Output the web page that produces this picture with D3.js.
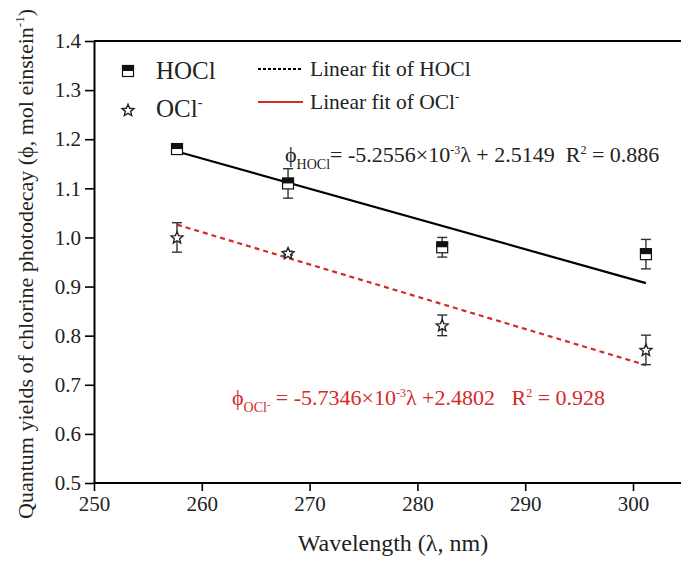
<!DOCTYPE html>
<html>
<head>
<meta charset="utf-8">
<script src="https://cdn.jsdelivr.net/npm/d3@7"></script>
<style>
  body { margin: 0; background: #fff; }
  svg, svg text { font-family: "Liberation Serif", "Times New Roman", serif; }
  text { white-space: pre; }
</style>
</head>
<body>
<div id="chart"></div>
<script>
(function(d3){
  'use strict';

  // data
  var wavelengths = [257.7, 268.0, 282.3, 301.2];
  var hoclValues = [1.180, 1.110, 0.980, 0.966];
  var hoclErrors = [0.004, 0.030, 0.020, 0.030];
  var oclValues = [1.000, 0.968, 0.821, 0.771];
  var oclErrors = [0.030, 0.004, 0.021, 0.030];
  var fitRange = [257.7, 301.2];
  var hoclFit = [1.175, 0.907];
  var oclFit = [1.026, 0.740];
  var xTicks = [250, 260, 270, 280, 290, 300];
  var yTicks = [0.5, 0.6, 0.7, 0.8, 0.9, 1.0, 1.1, 1.2, 1.3, 1.4];

  var width = 681, height = 563;
  var red = '#d42a2a';
  var serif = '"Liberation Serif", "Times New Roman", serif';

  var svg = d3.select('#chart').append('svg')
    .attr('width', width)
    .attr('height', height);

  var x = d3.scaleLinear().domain([250, 300]).range([94, 633]);
  var y = d3.scaleLinear().domain([0.5, 1.4]).range([483, 41]);

  // axes
  var xAxis = svg.append('g')
    .attr('transform', 'translate(0,' + y(0.5) + ')')
    .call(d3.axisBottom(x).tickValues(xTicks).tickSize(8).tickSizeOuter(0).tickPadding(5));
  xAxis.select('.domain').remove();
  xAxis.append('line').attr('x1', x(250)).attr('x2', width).attr('stroke', '#000').attr('stroke-width', 2);

  var yAxis = svg.append('g')
    .attr('transform', 'translate(' + x(250) + ',0)')
    .call(d3.axisLeft(y).tickValues(yTicks).tickFormat(d3.format('.1f')).tickSize(9).tickSizeOuter(0).tickPadding(4));

  [xAxis, yAxis].forEach(function(g){
    g.attr('font-family', serif).attr('font-size', 21);
    g.selectAll('.tick line').attr('stroke', '#000').attr('stroke-width', 1.6);
    g.selectAll('.tick text').attr('fill', '#222').style('font-family', serif);
  });
  yAxis.select('.domain').attr('stroke-width', 2);

  // top frame
  svg.append('line')
    .attr('x1', x(250)).attr('x2', width)
    .attr('y1', y(1.4)).attr('y2', y(1.4))
    .attr('stroke', '#000').attr('stroke-width', 2);

  // axis titles
  svg.append('text')
    .attr('x', 393).attr('y', 551)
    .attr('text-anchor', 'middle')
    .style('font-size', '24px').attr('fill', '#222')
    .text('Wavelength (λ, nm)');

  var yt = svg.append('text')
    .attr('transform', 'translate(33,' + 264 + ') rotate(-90)')
    .attr('text-anchor', 'middle')
    .style('font-size', '22px').attr('fill', '#222');
  yt.append('tspan').text('Quantum yields of chlorine photodecay (ϕ, mol einstein');
  yt.append('tspan').attr('dy', -9).style('font-size', '13px').text('-1');
  yt.append('tspan').attr('dy', 9).text(')');

  // fit lines
  svg.append('line')
    .attr('x1', x(fitRange[0])).attr('x2', x(fitRange[1]))
    .attr('y1', y(hoclFit[0])).attr('y2', y(hoclFit[1]))
    .attr('stroke', '#000').attr('stroke-width', 2.2);
  svg.append('line')
    .attr('x1', x(fitRange[0])).attr('x2', x(fitRange[1]))
    .attr('y1', y(oclFit[0])).attr('y2', y(oclFit[1]))
    .attr('stroke', red).attr('stroke-width', 2.2)
    .attr('stroke-dasharray', '5,4');

  // error bars
  function errorBars(values, errors) {
    var g = svg.append('g').attr('stroke', '#333').attr('stroke-width', 1.4);
    values.forEach(function(v, i){
      var cx = x(wavelengths[i]);
      var top = y(v + errors[i]), bot = y(v - errors[i]);
      g.append('line').attr('x1', cx).attr('x2', cx).attr('y1', top).attr('y2', bot);
      g.append('line').attr('x1', cx - 5).attr('x2', cx + 5).attr('y1', top).attr('y2', top);
      g.append('line').attr('x1', cx - 5).attr('x2', cx + 5).attr('y1', bot).attr('y2', bot);
    });
  }
  errorBars(hoclValues, hoclErrors);
  errorBars(oclValues, oclErrors);

  // five-point star
  var starPts = d3.range(10).map(function(k){
    var r = k % 2 ? 2.8 : 6.2;
    var a = -Math.PI / 2 + k * Math.PI / 5;
    return [r * Math.cos(a), r * Math.sin(a)];
  });
  var starPath = d3.line().curve(d3.curveLinearClosed)(starPts);

  function squareMarker(g, cx, cy) {
    g.append('rect').attr('x', cx - 5.5).attr('y', cy - 5.5).attr('width', 11).attr('height', 11)
      .attr('fill', '#fff').attr('stroke', '#111').attr('stroke-width', 1.2);
    g.append('rect').attr('x', cx - 5.5).attr('y', cy - 5.5).attr('width', 11).attr('height', 5.5)
      .attr('fill', '#111');
  }
  function starMarker(g, cx, cy) {
    g.append('path').attr('d', starPath)
      .attr('transform', 'translate(' + cx + ',' + (cy + 0.5) + ')')
      .attr('fill', '#fff').attr('stroke', '#222').attr('stroke-width', 1.4);
  }

  var marks = svg.append('g');
  hoclValues.forEach(function(v, i){ squareMarker(marks, x(wavelengths[i]), y(v)); });
  oclValues.forEach(function(v, i){ starMarker(marks, x(wavelengths[i]), y(v)); });

  // legend
  var lg = svg.append('g').attr('fill', '#222');
  squareMarker(lg, 128, 71);
  starMarker(lg, 128, 110);
  lg.append('text').attr('x', 156).attr('y', 79).style('font-size', '25px').text('HOCl');
  var o = lg.append('text').attr('x', 156).attr('y', 117).style('font-size', '25px');
  o.append('tspan').text('OCl');
  o.append('tspan').attr('dy', -10).style('font-size', '14px').text('-');

  lg.append('line').attr('x1', 258).attr('x2', 303).attr('y1', 69).attr('y2', 69)
    .attr('stroke', '#000').attr('stroke-width', 2).attr('stroke-dasharray', '3,2');
  lg.append('line').attr('x1', 258).attr('x2', 303).attr('y1', 102).attr('y2', 102)
    .attr('stroke', red).attr('stroke-width', 2);
  lg.append('text').attr('x', 310).attr('y', 76).style('font-size', '21.5px').text('Linear fit of HOCl');
  var l2 = lg.append('text').attr('x', 310).attr('y', 109).style('font-size', '21.5px');
  l2.append('tspan').text('Linear fit of OCl');
  l2.append('tspan').attr('dy', -8).style('font-size', '13px').text('-');

  // equations
  var e1 = svg.append('text').attr('x', 285).attr('y', 162).attr('fill', '#222').style('font-size', '22px');
  e1.append('tspan').text('ϕ');
  e1.append('tspan').attr('dy', 7).style('font-size', '14px').text('HOCl');
  e1.append('tspan').attr('dy', -7).text('= -5.2556×10');
  e1.append('tspan').attr('dy', -8).style('font-size', '12px').text('-3');
  e1.append('tspan').attr('dy', 8).text('λ + 2.5149  R');
  e1.append('tspan').attr('dy', -8).style('font-size', '12px').text('2');
  e1.append('tspan').attr('dy', 8).text(' = 0.886');

  var e2 = svg.append('text').attr('x', 232).attr('y', 405).attr('fill', red).style('font-size', '22px');
  e2.append('tspan').text('ϕ');
  e2.append('tspan').attr('dy', 7).style('font-size', '14px').text('OCl');
  e2.append('tspan').attr('dy', -4).style('font-size', '10px').text('-');
  e2.append('tspan').attr('dy', -3).text(' = -5.7346×10');
  e2.append('tspan').attr('dy', -8).style('font-size', '12px').text('-3');
  e2.append('tspan').attr('dy', 8).text('λ +2.4802   R');
  e2.append('tspan').attr('dy', -8).style('font-size', '12px').text('2');
  e2.append('tspan').attr('dy', 8).text(' = 0.928');

})(window.d3);
</script>
</body>
</html>
